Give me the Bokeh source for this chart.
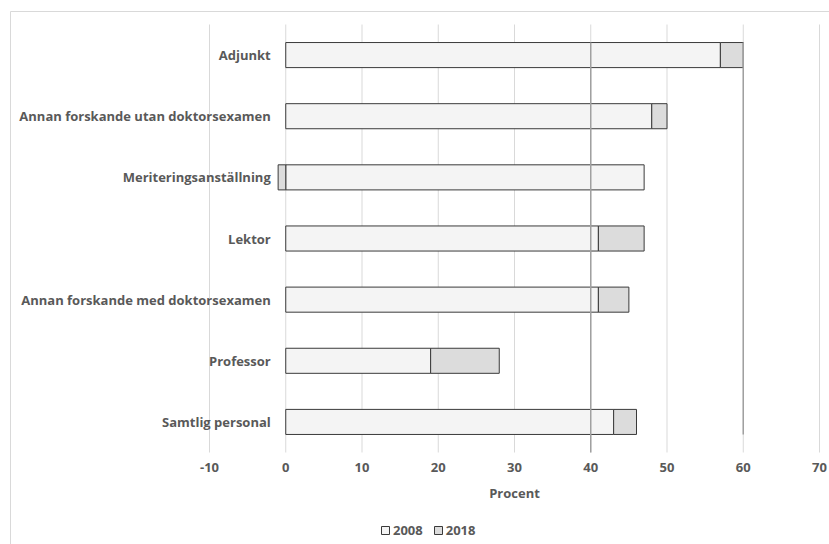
import numpy as np
from bokeh.plotting import figure
from bokeh.models import Range1d, Legend, LegendItem, ColumnDataSource
from bokeh.core.properties import value
from bokeh.embed import file_html
from bokeh.resources import INLINE

categories = ["Adjunkt", "Annan forskande utan doktorsexamen", "Meriteringsanställning",
              "Lektor", "Annan forskande med doktorsexamen", "Professor", "Samtlig personal"]
values_2008 = [57, 48, 47, 41, 41, 19, 43]
change_2018 = [3, 2, -1, 6, 4, 9, 3]
x_ticks = [-10, 0, 10, 20, 30, 40, 50, 60, 70]
x_tick_labels = ["-10", "0", "10", "20", "30", "40", "50", "60", "70"]
x_axis_title = "Procent"
ref_lines = [40, 60]
series_names = ["2008", "2018"]

FONT = "Open Sans"
GRAY = "#595959"
FS = "13px"

W, H = 829, 544
# layout (pixels): plot area from x-value -10 at px 209 to 70 at px 819, top 24, bottom 452
PX_LEFT, PX_RIGHT = 209.0, 819.0
PX_TOP, PX_BOTTOM = 24.0, 452.0
xmin, xmax = x_ticks[0], x_ticks[-1]
sx = (PX_RIGHT - PX_LEFT) / (xmax - xmin)
n = len(categories)
sy = (PX_BOTTOM - PX_TOP) / n

def px_x(px):
    return xmin + (px - PX_LEFT) / sx

def px_y(py):
    return (py - PX_TOP) / sy

p = figure(width=W, height=H, output_backend="svg", toolbar_location=None,
           x_range=Range1d(px_x(0), px_x(W)), y_range=Range1d(px_y(H), px_y(0)),
           min_border=0)
p.outline_line_color = None
p.axis.visible = False
p.grid.visible = False

# outer chart border
p.quad(left=[px_x(10)], right=[px_x(W + 20)], top=[px_y(11)], bottom=[px_y(H + 20)],
       fill_alpha=0, line_color="#d9d9d9", line_width=1)

# vertical gridlines
p.segment(x0=x_ticks, x1=x_ticks, y0=[0.0] * len(x_ticks), y1=[float(n)] * len(x_ticks),
          line_color="#d9d9d9", line_width=1)

ys = [i + 0.5 for i in range(n)]
v = np.array(values_2008, dtype=float)
d = np.array(change_2018, dtype=float)
left2 = np.where(d >= 0, v, d)
right2 = np.where(d >= 0, v + d, 0.0)
BH = 0.41

src1 = ColumnDataSource(dict(y=ys, left=[0.0] * n, right=list(v)))
src2 = ColumnDataSource(dict(y=ys, left=list(left2), right=list(right2)))
r1 = p.hbar(y="y", left="left", right="right", height=BH, source=src1,
            fill_color="#f4f4f4", line_color="#3a3a3a", line_width=1)
r2 = p.hbar(y="y", left="left", right="right", height=BH, source=src2,
            fill_color="#dcdcdc", line_color="#3a3a3a", line_width=1)

# reference lines
p.segment(x0=[ref_lines[0]], x1=[ref_lines[0]], y0=[ys[0] - BH / 2], y1=[float(n)],
          line_color="#a0a0a0", line_width=1.5)
p.segment(x0=[ref_lines[1]], x1=[ref_lines[1]], y0=[ys[0] - BH / 2], y1=[ys[-1] + BH / 2],
          line_color="#a0a0a0", line_width=1.5)

# category labels next to the 0 axis
p.text(x=[0.0] * n, y=ys, text=categories, x_offset=-15, text_align="right",
       text_baseline="middle", text_font=value(FONT), text_font_style="bold",
       text_font_size=FS, text_color=GRAY)

# x tick labels
p.text(x=x_ticks, y=[px_y(467)] * len(x_ticks), text=x_tick_labels, text_align="center",
       text_baseline="middle", text_font=value(FONT), text_font_style="bold",
       text_font_size=FS, text_color=GRAY)
# x axis title
p.text(x=[(xmin + xmax) / 2 + 0.0], y=[px_y(492)], text=[x_axis_title], text_align="center",
       text_baseline="middle", text_font=value(FONT), text_font_style="bold",
       text_font_size=FS, text_color=GRAY)

legend = Legend(items=[LegendItem(label=series_names[0], renderers=[r1]),
                       LegendItem(label=series_names[1], renderers=[r2])],
                orientation="horizontal", location=(380, 5),
                glyph_width=10, glyph_height=10, label_standoff=3, spacing=10,
                padding=0, margin=0, border_line_color=None, background_fill_alpha=0,
                label_height=12, label_text_baseline="middle",
                label_text_font=FONT, label_text_font_style="bold",
                label_text_font_size=FS, label_text_color=GRAY)
p.add_layout(legend, "center")

open("out.html", "w").write(file_html(p, INLINE))
